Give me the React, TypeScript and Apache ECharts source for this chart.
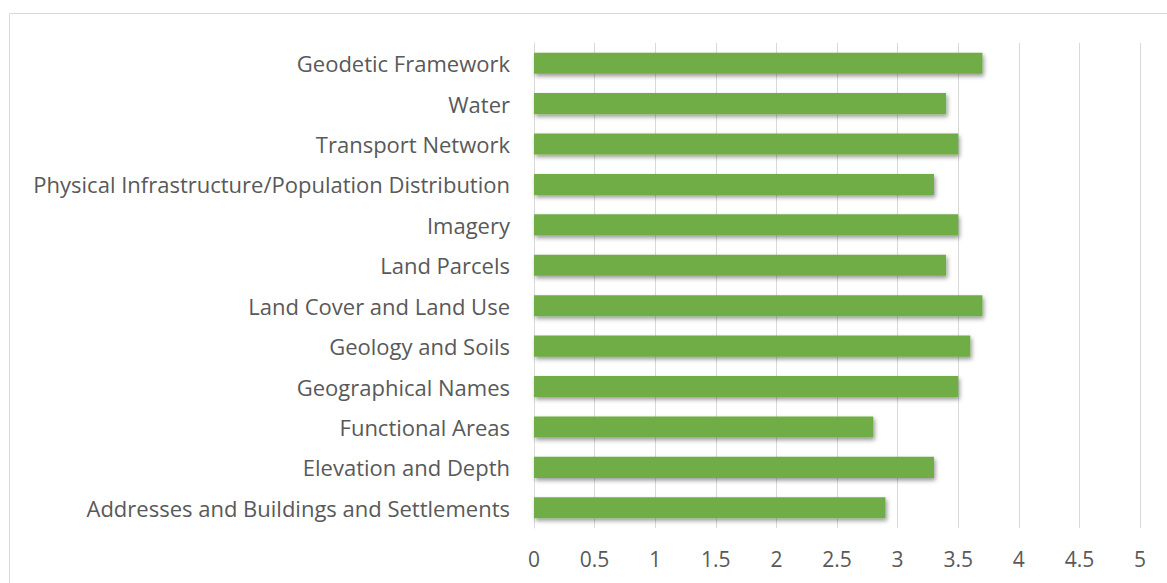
import React, { useEffect, useRef } from "react";
import * as echarts from "echarts";

const categories = [
  "Addresses and Buildings and Settlements",
  "Elevation and Depth",
  "Functional Areas",
  "Geographical Names",
  "Geology and Soils",
  "Land Cover and Land Use",
  "Land Parcels",
  "Imagery",
  "Physical Infrastructure/Population Distribution",
  "Transport Network",
  "Water",
  "Geodetic Framework",
];
const values = [2.9, 3.3, 2.8, 3.5, 3.6, 3.7, 3.4, 3.5, 3.3, 3.5, 3.4, 3.7];
const xMin = 0;
const xMax = 5;
const xInterval = 0.5;

export default function App() {
  const ref = useRef<HTMLDivElement>(null);
  useEffect(() => {
    const chart = echarts.init(ref.current!, undefined, { renderer: "svg" });
    const font = "'Open Sans', Roboto, sans-serif";
    chart.setOption({
      animation: false,
      backgroundColor: "#ffffff",
      graphic: [
        {
          type: "rect",
          shape: { x: 9.5, y: 13.5, width: 1200, height: 700 },
          style: { fill: "none", stroke: "#d9d9d9", lineWidth: 1 },
          silent: true,
        },
      ],
      grid: { left: 534, right: 27, top: 43, bottom: 55 },
      xAxis: {
        type: "value",
        min: xMin,
        max: xMax,
        interval: xInterval,
        axisLine: { show: false },
        axisTick: { show: false },
        splitLine: { show: true, lineStyle: { color: "#d9d9d9", width: 1 } },
        axisLabel: {
          color: "#595959",
          fontSize: 21,
          fontFamily: font,
          margin: 20,
        },
      },
      yAxis: {
        type: "category",
        data: categories,
        axisLine: { show: true, lineStyle: { color: "#d9d9d9", width: 1 } },
        axisTick: { show: false },
        axisLabel: {
          color: "#595959",
          fontSize: 22,
          fontFamily: font,
          margin: 24,
        },
      },
      series: [
        {
          type: "bar",
          data: values,
          barWidth: "52%",
          itemStyle: {
            color: "#70ad47",
            shadowColor: "rgba(0,0,0,0.4)",
            shadowBlur: 4,
            shadowOffsetX: 1.5,
            shadowOffsetY: 2.5,
          },
        },
      ],
    });
    return () => chart.dispose();
  }, []);
  return (
    <div
      ref={ref}
      style={{ position: "absolute", left: 0, top: 0, width: 1167, height: 583 }}
    />
  );
}
